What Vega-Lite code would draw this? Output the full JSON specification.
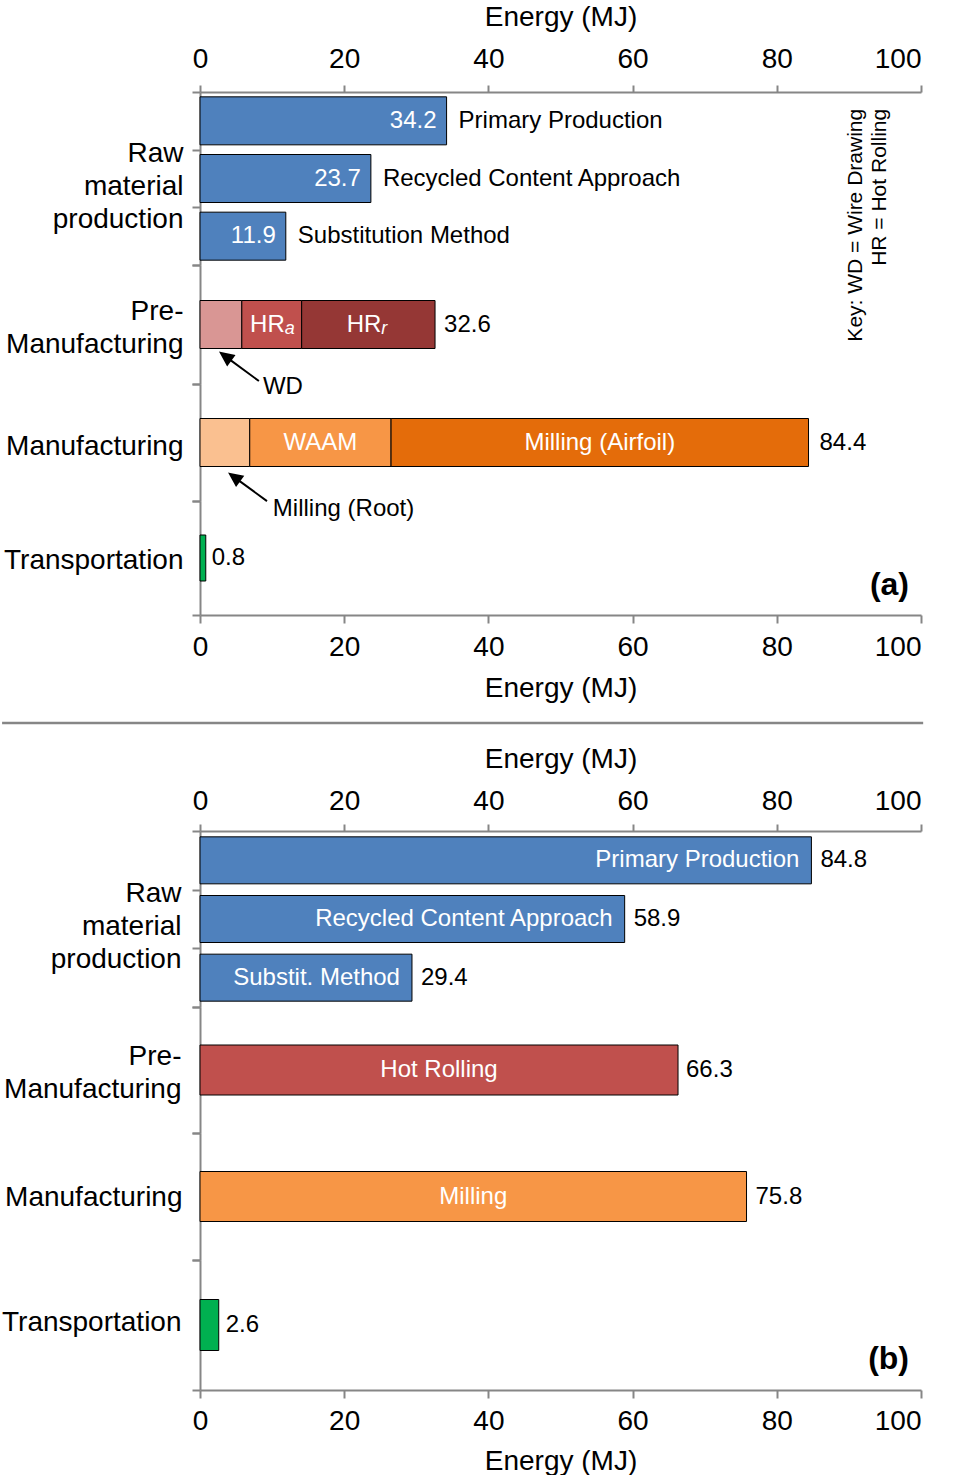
{
  "$schema": "https://vega.github.io/schema/vega-lite/v6.json",
  "background": "white",
  "padding": {"left": 0, "top": 3, "right": 0, "bottom": 0},
  "config": {
    "font": "Liberation Sans",
    "view": {"stroke": null},
    "axis": {"grid": false, "domainColor": "#868686", "domainWidth": 2, "tickColor": "#868686", "tickWidth": 2, "labelFontSize": 28, "titleFontSize": 28, "labelColor": "black", "titleColor": "black", "titleFontWeight": "normal", "labelOverlap": false},
    "text": {"fontSize": 24, "baseline": "middle", "color": "black"},
    "bar": {"stroke": "black", "strokeWidth": 1}
  },
  "datasets": {
    "energy": [
      {"panel": "a", "stage": "Raw", "item": "Primary Production", "part": "Primary Production", "energy": 34.2},
      {"panel": "a", "stage": "Raw", "item": "Recycled Content Approach", "part": "Recycled Content Approach", "energy": 23.7},
      {"panel": "a", "stage": "Raw", "item": "Substitution Method", "part": "Substitution Method", "energy": 11.9},
      {"panel": "a", "stage": "Pre", "item": "Pre-Manufacturing", "part": "WD", "energy": 5.8},
      {"panel": "a", "stage": "Pre", "item": "Pre-Manufacturing", "part": "HRa", "label": "HR", "sub": "a", "energy": 8.3},
      {"panel": "a", "stage": "Pre", "item": "Pre-Manufacturing", "part": "HRr", "label": "HR", "sub": "r", "energy": 18.5},
      {"panel": "a", "stage": "Man", "item": "Manufacturing", "part": "Milling (Root)", "energy": 6.9},
      {"panel": "a", "stage": "Man", "item": "Manufacturing", "part": "WAAM", "label": "WAAM", "energy": 19.6},
      {"panel": "a", "stage": "Man", "item": "Manufacturing", "part": "Milling (Airfoil)", "label": "Milling (Airfoil)", "energy": 57.9},
      {"panel": "a", "stage": "Tr", "item": "Transportation", "part": "Transportation", "energy": 0.8},
      {"panel": "b", "stage": "Raw", "item": "Primary Production", "part": "Primary Production", "energy": 84.8},
      {"panel": "b", "stage": "Raw", "item": "Recycled Content Approach", "part": "Recycled Content Approach", "energy": 58.9},
      {"panel": "b", "stage": "Raw", "item": "Substit. Method", "part": "Substitution Method", "energy": 29.4},
      {"panel": "b", "stage": "Pre", "item": "Hot Rolling", "part": "Hot Rolling", "label": "Hot Rolling", "energy": 66.3},
      {"panel": "b", "stage": "Man", "item": "Milling", "part": "Milling", "label": "Milling", "energy": 75.8},
      {"panel": "b", "stage": "Tr", "item": "Transportation", "part": "Transportation", "energy": 2.6}
    ]
  },
  "spacing": 0,
  "bounds": "flush",
  "resolve": {"scale": {"x": "independent", "y": "independent", "color": "shared"}},
  "vconcat": [
    {
      "width": 721, "height": 173,
      "data": {"name": "energy"},
      "transform": [{"filter": "datum.panel === 'a' && datum.stage === 'Raw'"}],
      "encoding": {
        "y": {"field": "item", "type": "nominal", "sort": null, "scale": {"paddingInner": 0, "paddingOuter": 0},
          "axis": {"labels": false, "tickBand": "extent", "tickSize": 8, "title": ["Raw", "material", "production"], "titleAngle": 0, "titleAlign": "right", "titleBaseline": "middle", "titleX": -17, "titleY": 61, "titleLineHeight": 33}}
      },
      "layer": [
        {"mark": {"type": "bar", "height": 48},
         "encoding": {
           "x": {"field": "energy", "type": "quantitative", "scale": {"domain": [0, 100], "nice": false},
             "axis": {"orient": "top", "values": [0, 20, 40, 60, 80, 100], "title": "Energy (MJ)", "tickSize": 7, "labelPadding": 12, "titlePadding": 14, "labelFlush": false, "labelAlign": {"condition": {"test": "datum.value === 100", "value": "right"}, "value": "center"}}},
           "color": {"field": "part", "type": "nominal", "legend": null, "scale": {"domain": ["Primary Production", "Recycled Content Approach", "Substitution Method", "WD", "HRa", "HRr", "Milling (Root)", "WAAM", "Milling (Airfoil)", "Transportation", "Hot Rolling", "Milling"], "range": ["#4F81BD", "#4F81BD", "#4F81BD", "#D99694", "#C0504D", "#953735", "#FAC090", "#F79646", "#E46C0A", "#00B050", "#C0504D", "#F79646"]}}
         }},
        {"mark": {"type": "text", "align": "right", "dx": -10, "color": "white"},
         "encoding": {"x": {"field": "energy", "type": "quantitative"}, "text": {"field": "energy", "type": "quantitative", "format": ".1f"}}},
        {"mark": {"type": "text", "align": "left", "dx": 12},
         "encoding": {"x": {"field": "energy", "type": "quantitative"}, "text": {"field": "item", "type": "nominal"}}},
        {"transform": [{"filter": "datum.item === 'Primary Production'"}],
         "mark": {"type": "text", "text": ["Key: WD = Wire Drawing", "HR = Hot Rolling"], "angle": 270, "align": "right", "baseline": "top", "fontSize": 21, "lineHeight": 24, "yOffset": -12},
         "encoding": {"x": {"datum": 89.4}}}
      ]
    },
    {
      "width": 721, "height": 119,
      "data": {"name": "energy"},
      "transform": [
        {"filter": "datum.panel === 'a' && datum.stage === 'Pre'"},
        {"window": [{"op": "row_number", "as": "rank"}]},
        {"stack": "energy", "groupby": ["item"], "sort": [{"field": "rank", "order": "ascending"}], "as": ["x0", "x1"]},
        {"calculate": "(datum.x0 + datum.x1) / 2", "as": "mid"}
      ],
      "encoding": {
        "y": {"field": "item", "type": "nominal", "scale": {"paddingInner": 0, "paddingOuter": 0},
          "axis": {"labels": false, "tickBand": "extent", "tickSize": 8, "title": ["Pre-", "Manufacturing"], "titleAngle": 0, "titleAlign": "right", "titleBaseline": "middle", "titleX": -17, "titleY": 46, "titleLineHeight": 33}}
      },
      "layer": [
        {"mark": {"type": "bar", "height": 48},
         "encoding": {
           "x": {"field": "x0", "type": "quantitative", "scale": {"domain": [0, 100], "nice": false}, "axis": null},
           "x2": {"field": "x1"},
           "color": {"field": "part", "type": "nominal", "legend": null, "scale": {"domain": ["Primary Production", "Recycled Content Approach", "Substitution Method", "WD", "HRa", "HRr", "Milling (Root)", "WAAM", "Milling (Airfoil)", "Transportation", "Hot Rolling", "Milling"], "range": ["#4F81BD", "#4F81BD", "#4F81BD", "#D99694", "#C0504D", "#953735", "#FAC090", "#F79646", "#E46C0A", "#00B050", "#C0504D", "#F79646"]}}
         }},
        {"transform": [{"filter": "datum.sub"}],
         "mark": {"type": "text", "align": "right", "dx": 13, "color": "white"},
         "encoding": {"x": {"field": "mid", "type": "quantitative"}, "text": {"field": "label"}}},
        {"transform": [{"filter": "datum.sub"}],
         "mark": {"type": "text", "align": "left", "dx": 13, "dy": 4, "fontSize": 18, "fontStyle": "italic", "color": "white"},
         "encoding": {"x": {"field": "mid", "type": "quantitative"}, "text": {"field": "sub"}}},
        {"transform": [{"aggregate": [{"op": "sum", "field": "energy", "as": "total"}], "groupby": ["item"]}],
         "mark": {"type": "text", "align": "left", "dx": 9},
         "encoding": {"x": {"field": "total", "type": "quantitative"}, "text": {"field": "total", "type": "quantitative", "format": ".1f"}}},
        {"transform": [{"filter": "datum.part === 'WD'"}],
         "mark": {"type": "point", "shape": "M-1,-0.737L-0.321,-0.596L-0.665,-0.13ZM-0.55,-0.4L1,0.737", "size": 1444, "filled": true, "color": "black", "stroke": "black", "strokeWidth": 2, "opacity": 1, "xOffset": 19, "yOffset": 42.5},
         "encoding": {"x": {"field": "mid", "type": "quantitative"}}},
        {"transform": [{"filter": "datum.part === 'WD'"}],
         "mark": {"type": "text", "align": "left", "dx": 42, "dy": 62},
         "encoding": {"x": {"field": "mid", "type": "quantitative"}, "text": {"field": "part"}}}
      ]
    },
    {
      "width": 721, "height": 117,
      "data": {"name": "energy"},
      "transform": [
        {"filter": "datum.panel === 'a' && datum.stage === 'Man'"},
        {"window": [{"op": "row_number", "as": "rank"}]},
        {"stack": "energy", "groupby": ["item"], "sort": [{"field": "rank", "order": "ascending"}], "as": ["x0", "x1"]},
        {"calculate": "(datum.x0 + datum.x1) / 2", "as": "mid"}
      ],
      "encoding": {
        "y": {"field": "item", "type": "nominal", "scale": {"paddingInner": 0, "paddingOuter": 0},
          "axis": {"labels": false, "tickBand": "extent", "tickSize": 8, "title": "Manufacturing", "titleAngle": 0, "titleAlign": "right", "titleBaseline": "middle", "titleX": -17, "titleY": 62}}
      },
      "layer": [
        {"mark": {"type": "bar", "height": 48},
         "encoding": {
           "x": {"field": "x0", "type": "quantitative", "scale": {"domain": [0, 100], "nice": false}, "axis": null},
           "x2": {"field": "x1"},
           "color": {"field": "part", "type": "nominal", "legend": null, "scale": {"domain": ["Primary Production", "Recycled Content Approach", "Substitution Method", "WD", "HRa", "HRr", "Milling (Root)", "WAAM", "Milling (Airfoil)", "Transportation", "Hot Rolling", "Milling"], "range": ["#4F81BD", "#4F81BD", "#4F81BD", "#D99694", "#C0504D", "#953735", "#FAC090", "#F79646", "#E46C0A", "#00B050", "#C0504D", "#F79646"]}}
         }},
        {"transform": [{"filter": "datum.label"}],
         "mark": {"type": "text", "align": "center", "color": "white"},
         "encoding": {"x": {"field": "mid", "type": "quantitative"}, "text": {"field": "label"}}},
        {"transform": [{"aggregate": [{"op": "sum", "field": "energy", "as": "total"}], "groupby": ["item"]}],
         "mark": {"type": "text", "align": "left", "dx": 11},
         "encoding": {"x": {"field": "total", "type": "quantitative"}, "text": {"field": "total", "type": "quantitative", "format": ".1f"}}},
        {"transform": [{"filter": "datum.part === 'Milling (Root)'"}],
         "mark": {"type": "point", "shape": "M-1,-0.737L-0.321,-0.596L-0.665,-0.13ZM-0.55,-0.4L1,0.737", "size": 1369, "filled": true, "color": "black", "stroke": "black", "strokeWidth": 2, "opacity": 1, "xOffset": 23.6, "yOffset": 45},
         "encoding": {"x": {"field": "mid", "type": "quantitative"}}},
        {"transform": [{"filter": "datum.part === 'Milling (Root)'"}],
         "mark": {"type": "text", "align": "left", "dx": 48, "dy": 66},
         "encoding": {"x": {"field": "mid", "type": "quantitative"}, "text": {"field": "part"}}}
      ]
    },
    {
      "width": 721, "height": 114,
      "data": {"name": "energy"},
      "transform": [{"filter": "datum.panel === 'a' && datum.stage === 'Tr'"}],
      "encoding": {
        "y": {"field": "item", "type": "nominal", "scale": {"paddingInner": 0, "paddingOuter": 0},
          "axis": {"labels": false, "tickBand": "extent", "tickSize": 8, "title": "Transportation", "titleAngle": 0, "titleAlign": "right", "titleBaseline": "middle", "titleX": -17, "titleY": 59}}
      },
      "layer": [
        {"mark": {"type": "bar", "height": 46},
         "encoding": {
           "x": {"field": "energy", "type": "quantitative", "scale": {"domain": [0, 100], "nice": false},
             "axis": {"orient": "bottom", "values": [0, 20, 40, 60, 80, 100], "title": "Energy (MJ)", "tickSize": 8, "labelPadding": 10, "titlePadding": 13, "labelFlush": false, "labelAlign": {"condition": {"test": "datum.value === 100", "value": "right"}, "value": "center"}}},
           "color": {"field": "part", "type": "nominal", "legend": null, "scale": {"domain": ["Primary Production", "Recycled Content Approach", "Substitution Method", "WD", "HRa", "HRr", "Milling (Root)", "WAAM", "Milling (Airfoil)", "Transportation", "Hot Rolling", "Milling"], "range": ["#4F81BD", "#4F81BD", "#4F81BD", "#D99694", "#C0504D", "#953735", "#FAC090", "#F79646", "#E46C0A", "#00B050", "#C0504D", "#F79646"]}}
         }},
        {"mark": {"type": "text", "align": "left", "dx": 6},
         "encoding": {"x": {"field": "energy", "type": "quantitative"}, "text": {"field": "energy", "type": "quantitative", "format": ".1f"}}},
        {"mark": {"type": "text", "text": "(a)", "align": "right", "dx": -12, "dy": 27, "fontSize": 32, "fontWeight": "bold"},
         "encoding": {"x": {"datum": 100}}}
      ]
    },
    {
      "width": 721, "height": 216,
      "data": {"name": "energy"},
      "transform": [{"filter": "datum.panel === 'a' && datum.stage === 'Tr'"}],
      "mark": {"type": "rule", "color": "#868686", "strokeWidth": 2.5},
      "encoding": {
        "x": {"datum": -27.45, "type": "quantitative", "scale": {"domain": [0, 100], "nice": false}, "axis": null},
        "x2": {"datum": 100.3}
      }
    },
    {
      "width": 721, "height": 176,
      "data": {"name": "energy"},
      "transform": [{"filter": "datum.panel === 'b' && datum.stage === 'Raw'"}],
      "encoding": {
        "y": {"field": "item", "type": "nominal", "sort": null, "scale": {"paddingInner": 0, "paddingOuter": 0},
          "axis": {"labels": false, "tickBand": "extent", "tickSize": 8, "title": ["Raw", "material", "production"], "titleAngle": 0, "titleAlign": "right", "titleBaseline": "middle", "titleX": -19, "titleY": 62, "titleLineHeight": 33}}
      },
      "layer": [
        {"mark": {"type": "bar", "height": 47},
         "encoding": {
           "x": {"field": "energy", "type": "quantitative", "scale": {"domain": [0, 100], "nice": false},
             "axis": {"orient": "top", "values": [0, 20, 40, 60, 80, 100], "title": "Energy (MJ)", "tickSize": 7, "labelPadding": 9, "titlePadding": 14, "labelFlush": false, "labelAlign": {"condition": {"test": "datum.value === 100", "value": "right"}, "value": "center"}}},
           "color": {"field": "part", "type": "nominal", "legend": null, "scale": {"domain": ["Primary Production", "Recycled Content Approach", "Substitution Method", "WD", "HRa", "HRr", "Milling (Root)", "WAAM", "Milling (Airfoil)", "Transportation", "Hot Rolling", "Milling"], "range": ["#4F81BD", "#4F81BD", "#4F81BD", "#D99694", "#C0504D", "#953735", "#FAC090", "#F79646", "#E46C0A", "#00B050", "#C0504D", "#F79646"]}}
         }},
        {"mark": {"type": "text", "align": "right", "dx": -12, "color": "white"},
         "encoding": {"x": {"field": "energy", "type": "quantitative"}, "text": {"field": "item", "type": "nominal"}}},
        {"mark": {"type": "text", "align": "left", "dx": 9},
         "encoding": {"x": {"field": "energy", "type": "quantitative"}, "text": {"field": "energy", "type": "quantitative", "format": ".1f"}}}
      ]
    },
    {
      "width": 721, "height": 126,
      "data": {"name": "energy"},
      "transform": [{"filter": "datum.panel === 'b' && datum.stage === 'Pre'"}, {"calculate": "datum.energy / 2", "as": "mid"}],
      "encoding": {
        "y": {"field": "item", "type": "nominal", "scale": {"paddingInner": 0, "paddingOuter": 0},
          "axis": {"labels": false, "tickBand": "extent", "tickSize": 8, "title": ["Pre-", "Manufacturing"], "titleAngle": 0, "titleAlign": "right", "titleBaseline": "middle", "titleX": -19, "titleY": 49, "titleLineHeight": 33}}
      },
      "layer": [
        {"mark": {"type": "bar", "height": 50},
         "encoding": {
           "x": {"field": "energy", "type": "quantitative", "scale": {"domain": [0, 100], "nice": false}, "axis": null},
           "color": {"field": "part", "type": "nominal", "legend": null, "scale": {"domain": ["Primary Production", "Recycled Content Approach", "Substitution Method", "WD", "HRa", "HRr", "Milling (Root)", "WAAM", "Milling (Airfoil)", "Transportation", "Hot Rolling", "Milling"], "range": ["#4F81BD", "#4F81BD", "#4F81BD", "#D99694", "#C0504D", "#953735", "#FAC090", "#F79646", "#E46C0A", "#00B050", "#C0504D", "#F79646"]}}
         }},
        {"mark": {"type": "text", "align": "center", "color": "white"},
         "encoding": {"x": {"field": "mid", "type": "quantitative"}, "text": {"field": "label"}}},
        {"mark": {"type": "text", "align": "left", "dx": 8},
         "encoding": {"x": {"field": "energy", "type": "quantitative"}, "text": {"field": "energy", "type": "quantitative", "format": ".1f"}}}
      ]
    },
    {
      "width": 721, "height": 127,
      "data": {"name": "energy"},
      "transform": [{"filter": "datum.panel === 'b' && datum.stage === 'Man'"}, {"calculate": "datum.energy / 2", "as": "mid"}],
      "encoding": {
        "y": {"field": "item", "type": "nominal", "scale": {"paddingInner": 0, "paddingOuter": 0},
          "axis": {"labels": false, "tickBand": "extent", "tickSize": 8, "title": "Manufacturing", "titleAngle": 0, "titleAlign": "right", "titleBaseline": "middle", "titleX": -18, "titleY": 64}}
      },
      "layer": [
        {"mark": {"type": "bar", "height": 50},
         "encoding": {
           "x": {"field": "energy", "type": "quantitative", "scale": {"domain": [0, 100], "nice": false}, "axis": null},
           "color": {"field": "part", "type": "nominal", "legend": null, "scale": {"domain": ["Primary Production", "Recycled Content Approach", "Substitution Method", "WD", "HRa", "HRr", "Milling (Root)", "WAAM", "Milling (Airfoil)", "Transportation", "Hot Rolling", "Milling"], "range": ["#4F81BD", "#4F81BD", "#4F81BD", "#D99694", "#C0504D", "#953735", "#FAC090", "#F79646", "#E46C0A", "#00B050", "#C0504D", "#F79646"]}}
         }},
        {"mark": {"type": "text", "align": "center", "color": "white"},
         "encoding": {"x": {"field": "mid", "type": "quantitative"}, "text": {"field": "label"}}},
        {"mark": {"type": "text", "align": "left", "dx": 9},
         "encoding": {"x": {"field": "energy", "type": "quantitative"}, "text": {"field": "energy", "type": "quantitative", "format": ".1f"}}}
      ]
    },
    {
      "width": 721, "height": 130,
      "data": {"name": "energy"},
      "transform": [{"filter": "datum.panel === 'b' && datum.stage === 'Tr'"}],
      "encoding": {
        "y": {"field": "item", "type": "nominal", "scale": {"paddingInner": 0, "paddingOuter": 0},
          "axis": {"labels": false, "tickBand": "extent", "tickSize": 8, "title": "Transportation", "titleAngle": 0, "titleAlign": "right", "titleBaseline": "middle", "titleX": -19, "titleY": 62}}
      },
      "layer": [
        {"mark": {"type": "bar", "height": 51},
         "encoding": {
           "x": {"field": "energy", "type": "quantitative", "scale": {"domain": [0, 100], "nice": false},
             "axis": {"orient": "bottom", "values": [0, 20, 40, 60, 80, 100], "title": "Energy (MJ)", "tickSize": 8, "labelPadding": 9, "titlePadding": 12, "labelFlush": false, "labelAlign": {"condition": {"test": "datum.value === 100", "value": "right"}, "value": "center"}}},
           "color": {"field": "part", "type": "nominal", "legend": null, "scale": {"domain": ["Primary Production", "Recycled Content Approach", "Substitution Method", "WD", "HRa", "HRr", "Milling (Root)", "WAAM", "Milling (Airfoil)", "Transportation", "Hot Rolling", "Milling"], "range": ["#4F81BD", "#4F81BD", "#4F81BD", "#D99694", "#C0504D", "#953735", "#FAC090", "#F79646", "#E46C0A", "#00B050", "#C0504D", "#F79646"]}}
         }},
        {"mark": {"type": "text", "align": "left", "dx": 7},
         "encoding": {"x": {"field": "energy", "type": "quantitative"}, "text": {"field": "energy", "type": "quantitative", "format": ".1f"}}},
        {"mark": {"type": "text", "text": "(b)", "align": "right", "dx": -12, "dy": 34, "fontSize": 32, "fontWeight": "bold"},
         "encoding": {"x": {"datum": 100}}}
      ]
    }
  ]
}
